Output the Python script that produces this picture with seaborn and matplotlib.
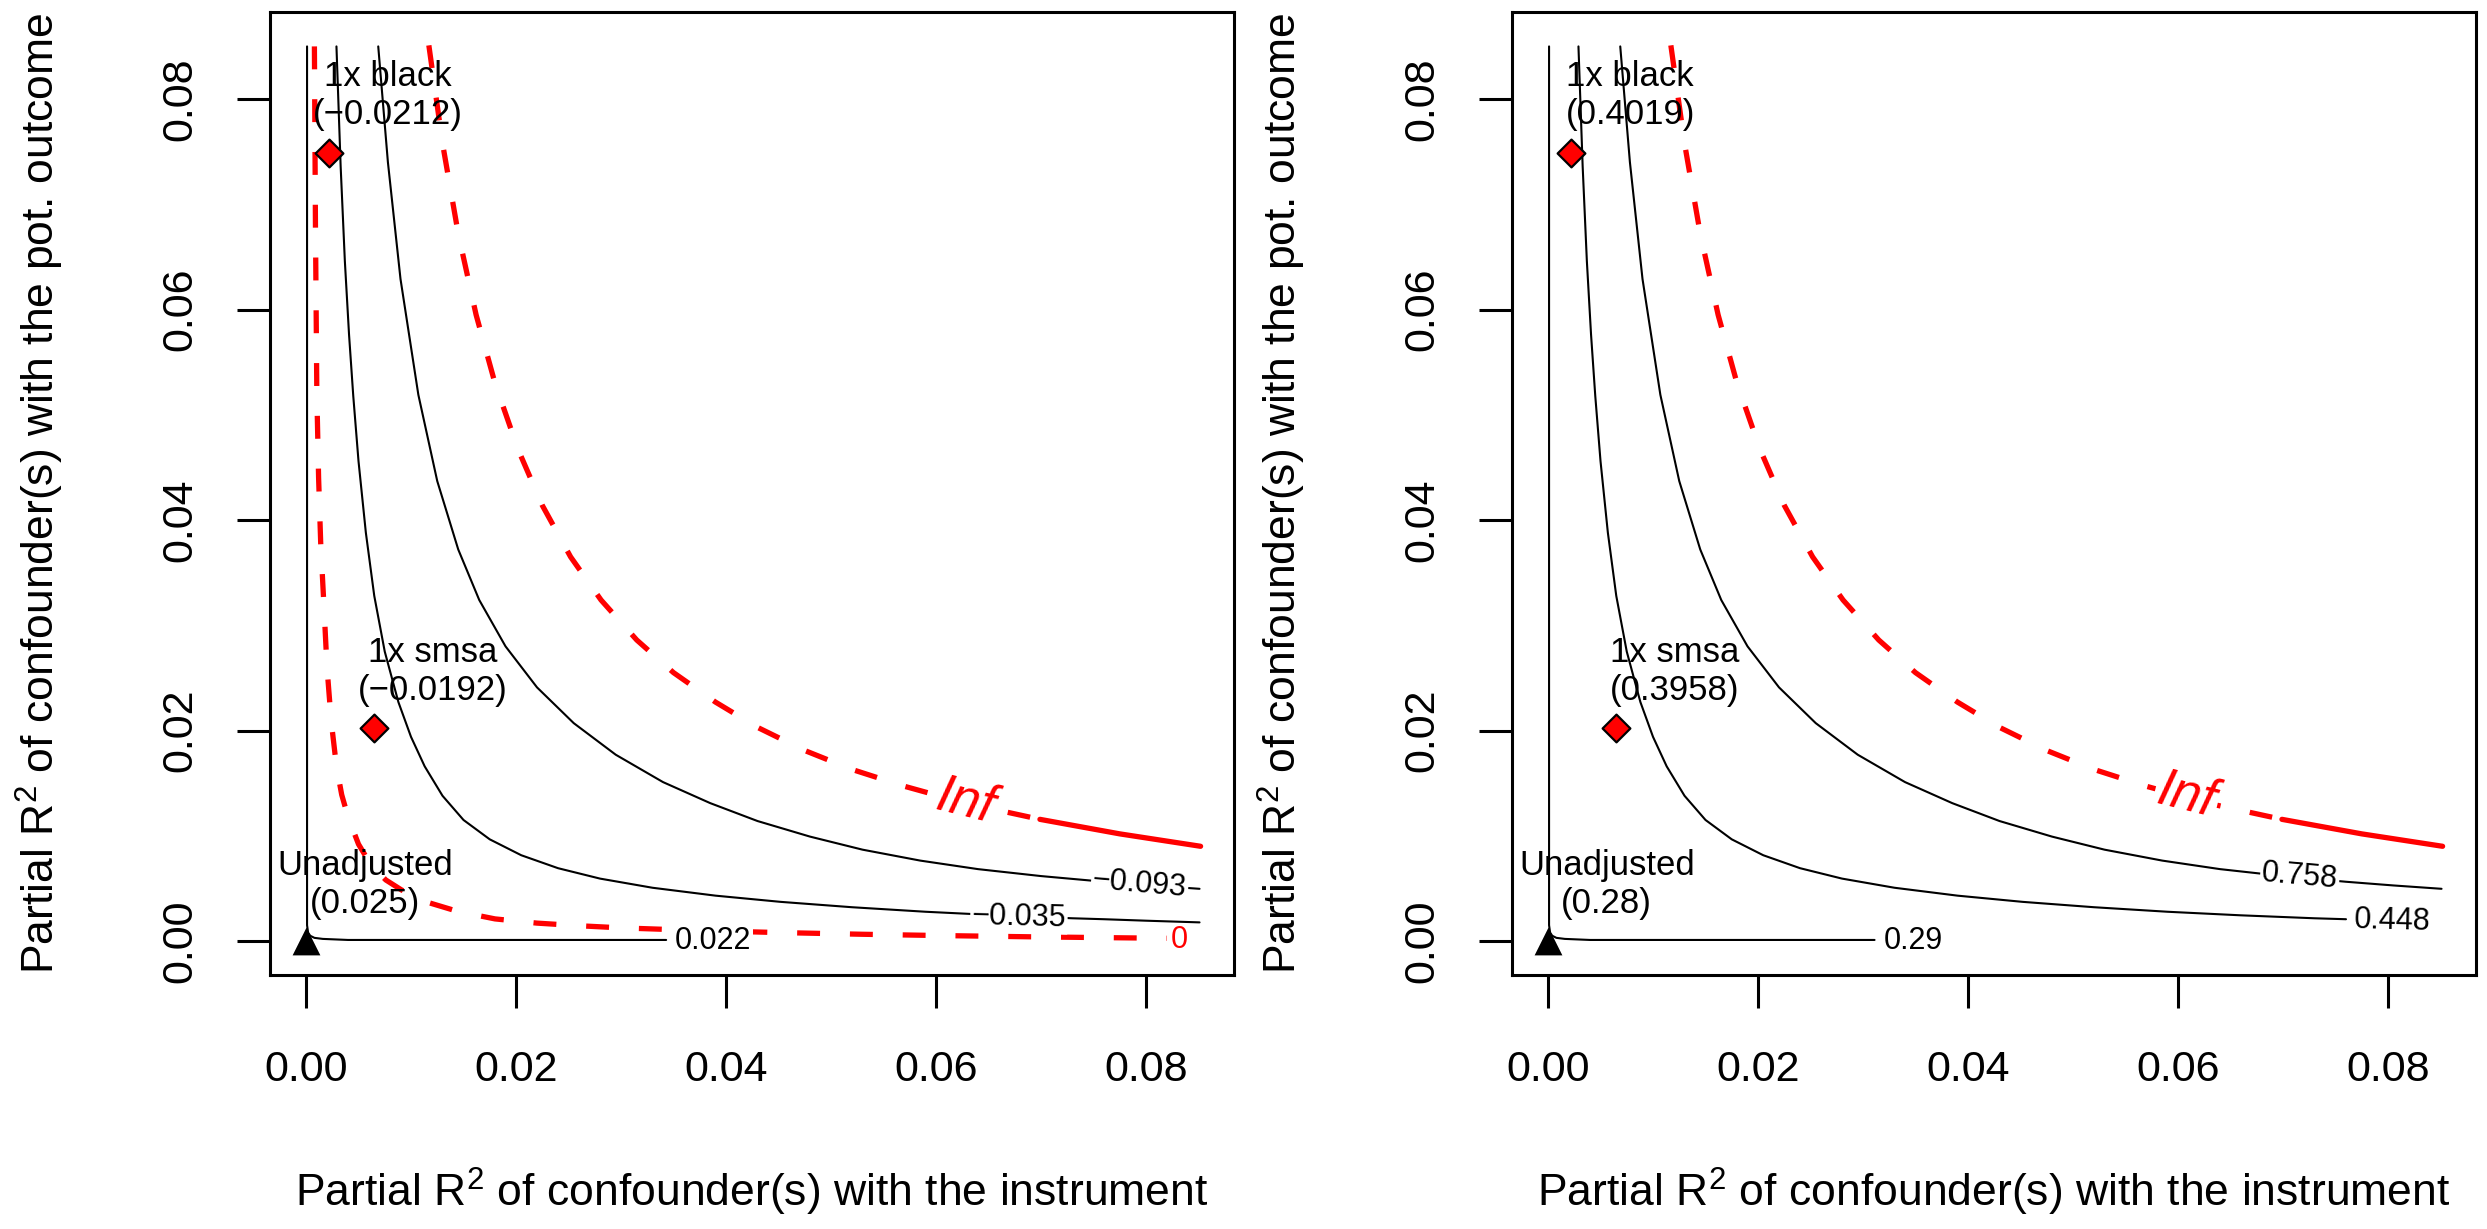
import matplotlib
matplotlib.use("Agg")
import matplotlib.pyplot as plt
import seaborn as sns

# contour curves
# x = partial R2 with the instrument, y = partial R2 with the pot. outcome
near_x = [0.0001, 0.0001, 0.0002, 0.0004, 0.0008, 0.0016, 0.0040, 0.0100, 0.0311, 0.0343]
near_y = [0.0850, 0.0015, 0.0008, 0.0005, 0.0003, 0.0002, 0.0001, 0.0001, 0.0001, 0.0001]

mid_x = [0.0029, 0.0033, 0.0037, 0.0041, 0.0045, 0.0050, 0.0057, 0.0065, 0.0075,
         0.0088, 0.0100, 0.0113, 0.0130, 0.0150, 0.0175, 0.0205, 0.0240, 0.0280,
         0.0330, 0.0390, 0.0452, 0.0520, 0.0590, 0.0660, 0.0730, 0.0760, 0.0800, 0.0851]
mid_y = [0.0850, 0.0736, 0.0646, 0.0576, 0.0518, 0.0456, 0.0388, 0.0328, 0.0275,
         0.0227, 0.0194, 0.0166, 0.0138, 0.0115, 0.00966, 0.00815, 0.00692, 0.00593,
         0.00506, 0.00431, 0.00372, 0.00321, 0.00278, 0.00244, 0.00216, 0.00207,
         0.00193, 0.00177]

outer_x = [0.00688, 0.0078, 0.0090, 0.0107, 0.0125, 0.0145, 0.0165, 0.0190, 0.0220,
           0.0255, 0.0295, 0.0340, 0.0385, 0.0430, 0.0480, 0.0530, 0.0585, 0.0640,
           0.0700, 0.0760, 0.0805, 0.0851]
outer_y = [0.0850, 0.0740, 0.0629, 0.0519, 0.0437, 0.0372, 0.0324, 0.0280, 0.0241,
           0.0207, 0.0177, 0.0151, 0.0131, 0.0114, 0.00992, 0.00868, 0.00764, 0.00683,
           0.00617, 0.00563, 0.00528, 0.00496]

inf_x = [0.0117, 0.0130, 0.0145, 0.0162, 0.0180, 0.0202, 0.0225, 0.0252, 0.0281,
         0.0315, 0.0350, 0.0390, 0.0430, 0.0475, 0.0520, 0.0570, 0.0628, 0.0699,
         0.0775, 0.0852]
inf_y = [0.0851, 0.0758, 0.0672, 0.0595, 0.0530, 0.0467, 0.0414, 0.0365, 0.0324,
         0.0286, 0.0255, 0.0227, 0.0203, 0.0181, 0.0163, 0.0147, 0.0131, 0.01156,
         0.01018, 0.0090]

zero_x = [0.0008, 0.0009, 0.00103, 0.0012, 0.0014, 0.00168, 0.0020, 0.0024, 0.0029,
          0.0034, 0.0040, 0.0050, 0.0062, 0.0076, 0.0091, 0.0115, 0.0145, 0.0180,
          0.0220, 0.0260, 0.0302, 0.0380, 0.0452, 0.0530, 0.0610, 0.0690, 0.0760, 0.0820]
zero_y = [0.0850, 0.0680, 0.0521, 0.0440, 0.0378, 0.0324, 0.0260, 0.0209, 0.0166,
          0.0139, 0.0118, 0.0092, 0.0072, 0.0058, 0.00485, 0.0037, 0.0028, 0.0021,
          0.0017, 0.00145, 0.00124, 0.00098, 0.00080, 0.00064, 0.00051, 0.00040,
          0.00032, 0.00026]

ticks = [0.00, 0.02, 0.04, 0.06, 0.08]
tick_labels = ["0.00", "0.02", "0.04", "0.06", "0.08"]

point_names = ["Unadjusted", "1x black", "1x smsa"]
point_x = [0.0, 0.00222, 0.00644]
point_y = [0.0, 0.0749, 0.0202]
left_point_values = ["0.025", "\u22120.0212", "\u22120.0192"]
right_point_values = ["0.28", "0.4019", "0.3958"]

left_levels = ["0.022", "\u22120.035", "\u22120.093"]
right_levels = ["0.29", "0.448", "0.758"]

# where the labels sit on the curves, and where a curve stops before its label
left_label_pos = [(0.0388, 0.0000), (0.0679, 0.0023), (0.0794, 0.0054)]
right_label_pos = [(0.0348, 0.0000), (0.0804, 0.0019), (0.0716, 0.0061)]
left_line_end = [0.0343, None, None]
right_line_end = [0.0311, 0.0760, None]
label_rot = [0, -1.5, -5]
left_inf_pos = (0.0628, 0.0132)
right_inf_pos = (0.0608, 0.0137)
inf_solid_from = 0.0699

sns.set_theme(style="ticks")
plt.rcParams["font.family"] = ["Liberation Sans", "DejaVu Sans"]
plt.rcParams["mathtext.fontset"] = "custom"
plt.rcParams["mathtext.rm"] = "Liberation Sans"
plt.rcParams["mathtext.default"] = "regular"
plt.rcParams["lines.scale_dashes"] = False
plt.rcParams["text.color"] = "black"
plt.rcParams["axes.labelcolor"] = "black"
plt.rcParams["xtick.color"] = "black"
plt.rcParams["ytick.color"] = "black"
plt.rcParams["lines.solid_joinstyle"] = "round"
plt.rcParams["lines.dash_joinstyle"] = "round"

RED = "#ff0000"
BLACK_LW = 1.5
RED_LW = 3.8
DASH = (0, (16.5, 21.5))
label_box = dict(boxstyle="square,pad=0.05", fc="white", ec="none")


def draw_panel(ax, levels, label_pos, line_end, inf_pos, point_values, show_zero):
    curves = [(near_x, near_y), (mid_x, mid_y), (outer_x, outer_y)]
    for (cx, cy), end, lab, pos, rot in zip(curves, line_end, levels, label_pos, label_rot):
        keep = [i for i, v in enumerate(cx) if end is None or v <= end]
        sns.lineplot(x=[cx[i] for i in keep], y=[cy[i] for i in keep], sort=False,
                     estimator=None, color="black", linewidth=BLACK_LW, ax=ax, zorder=2)
        ax.text(pos[0], pos[1], lab, fontsize=22, rotation=rot, ha="center", va="center",
                color="black", bbox=label_box, zorder=3)

    dashed = [i for i, v in enumerate(inf_x) if v <= inf_solid_from]
    solid = [i for i, v in enumerate(inf_x) if v >= inf_solid_from]
    sns.lineplot(x=[inf_x[i] for i in dashed], y=[inf_y[i] for i in dashed], sort=False,
                 estimator=None, color=RED, linewidth=RED_LW, linestyle=DASH, ax=ax, zorder=2)
    sns.lineplot(x=[inf_x[i] for i in solid], y=[inf_y[i] for i in solid], sort=False,
                 estimator=None, color=RED, linewidth=RED_LW, ax=ax, zorder=2)
    ax.text(inf_pos[0], inf_pos[1], "Inf", fontsize=38, style="italic", rotation=-14,
            ha="center", va="center", color=RED, bbox=label_box, zorder=3)

    if show_zero:
        sns.lineplot(x=zero_x, y=zero_y, sort=False, estimator=None, color=RED,
                     linewidth=RED_LW, linestyle=DASH, ax=ax, zorder=2)
        ax.text(0.0832, 0.0001, "0", fontsize=22, ha="center", va="center", color=RED, zorder=3)

    sns.scatterplot(x=point_x[:1], y=point_y[:1], marker="^", s=400, color="black",
                    edgecolor="black", linewidth=0, ax=ax, zorder=4)
    sns.scatterplot(x=point_x[1:], y=point_y[1:], marker="D", s=200, color=RED,
                    edgecolor="black", linewidth=1.6, ax=ax, zorder=4)
    for name, px, py, val in zip(point_names, point_x, point_y, point_values):
        ax.text(px + 0.0056, py + 0.0054, f"{name}\n({val})", fontsize=25,
                ha="center", va="center", color="black", zorder=5)

    ax.set_xlim(-0.00343, 0.08838)
    ax.set_ylim(-0.00323, 0.08827)
    ax.set_xticks(ticks, tick_labels)
    ax.set_yticks(ticks, tick_labels, rotation=90, va="center")
    ax.tick_params(axis="both", length=23.8, width=2.2, labelsize=31, color="black",
                   labelcolor="black", direction="out")
    ax.tick_params(axis="x", pad=30)
    ax.tick_params(axis="y", pad=26)
    for sp in ax.spines.values():
        sp.set_visible(True)
        sp.set_linewidth(2.2)
        sp.set_color("black")
    ax.set_xlabel("Partial R$^2$ of confounder(s) with the instrument", fontsize=32,
                  va="center", color="black")
    ax.set_ylabel("Partial R$^2$ of confounder(s) with the pot. outcome", fontsize=32,
                  va="center", color="black")
    ax.xaxis.set_label_coords(0.5, -0.2253)
    ax.yaxis.set_label_coords(-0.2386, 0.5)


fig = plt.figure(figsize=(24.87, 12.29), dpi=100)
ax_l = fig.add_axes([0.10856, 0.20667, 0.38761, 0.78357])
ax_r = fig.add_axes([0.60796, 0.20667, 0.38761, 0.78357])

draw_panel(ax_l, left_levels, left_label_pos, left_line_end, left_inf_pos,
           left_point_values, True)
draw_panel(ax_r, right_levels, right_label_pos, right_line_end, right_inf_pos,
           right_point_values, False)

fig.savefig("out.png", dpi=100, facecolor="white")
